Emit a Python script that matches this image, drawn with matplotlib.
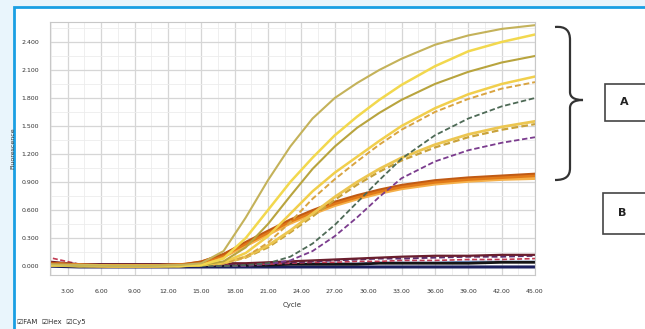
import matplotlib.pyplot as plt
import matplotlib.patches as patches
from matplotlib.path import Path
from matplotlib.ticker import MultipleLocator

cycles = [1, 4, 7, 10, 13, 15, 17, 19, 21, 23, 25, 27, 29, 31, 33, 36, 39, 42, 45]

# group A (strong amplification)
a_olive_top = [0.02, 0.01, 0.0, 0.0, 0.01, 0.03, 0.16, 0.52, 0.92, 1.28, 1.58, 1.80, 1.96, 2.10, 2.22, 2.37, 2.47, 2.54, 2.58]
a_yellow_top = [0.01, 0.01, 0.0, 0.0, 0.0, 0.01, 0.08, 0.30, 0.60, 0.90, 1.16, 1.40, 1.60, 1.78, 1.94, 2.14, 2.30, 2.40, 2.48]
a_olive_mid = [0.01, 0.0, 0.0, 0.0, 0.0, 0.01, 0.05, 0.20, 0.45, 0.75, 1.04, 1.28, 1.48, 1.64, 1.78, 1.95, 2.08, 2.18, 2.25]
a_yellow_mid = [0.01, 0.0, 0.0, 0.0, 0.0, 0.01, 0.04, 0.14, 0.32, 0.56, 0.80, 1.00, 1.17, 1.34, 1.50, 1.69, 1.84, 1.95, 2.03]
a_tan_dash = [0.01, 0.0, 0.0, 0.0, 0.0, 0.01, 0.03, 0.10, 0.25, 0.47, 0.72, 0.93, 1.12, 1.30, 1.46, 1.65, 1.79, 1.90, 1.97]
a_green_dash = [0.01, 0.0, 0.0, 0.0, 0.0, 0.0, 0.0, 0.01, 0.03, 0.10, 0.24, 0.44, 0.68, 0.92, 1.15, 1.40, 1.58, 1.71, 1.80]
a_yellow_low = [0.01, 0.0, 0.0, 0.0, 0.0, 0.01, 0.03, 0.10, 0.22, 0.38, 0.56, 0.74, 0.90, 1.04, 1.16, 1.30, 1.41, 1.49, 1.55]
a_gold_low = [0.01, 0.0, 0.0, 0.0, 0.0, 0.01, 0.03, 0.09, 0.20, 0.36, 0.53, 0.71, 0.87, 1.01, 1.13, 1.27, 1.38, 1.46, 1.52]
a_purple_dash = [0.01, 0.0, 0.0, 0.0, 0.0, 0.0, 0.0, 0.0, 0.02, 0.06, 0.16, 0.32, 0.52, 0.74, 0.94, 1.12, 1.24, 1.32, 1.38]

# group B (weak amplification, orange bundle)
b_orange = [0.03, 0.01, 0.0, 0.0, 0.01, 0.04, 0.12, 0.24, 0.36, 0.48, 0.58, 0.67, 0.74, 0.80, 0.85, 0.90, 0.93, 0.95, 0.97]
b_dark = [0.04, 0.01, 0.0, 0.0, 0.01, 0.05, 0.13, 0.26, 0.38, 0.50, 0.60, 0.69, 0.76, 0.82, 0.87, 0.92, 0.95, 0.97, 0.99]
b_light = [0.03, 0.01, 0.0, 0.0, 0.01, 0.03, 0.10, 0.22, 0.34, 0.46, 0.56, 0.65, 0.72, 0.78, 0.83, 0.88, 0.91, 0.93, 0.94]

# negatives near baseline
n_maroon = [0.05, 0.02, 0.02, 0.02, 0.02, 0.02, 0.03, 0.03, 0.04, 0.05, 0.06, 0.07, 0.08, 0.09, 0.10, 0.11, 0.11, 0.12, 0.12]
n_purple = [0.03, 0.02, 0.01, 0.01, 0.01, 0.01, 0.02, 0.02, 0.03, 0.04, 0.05, 0.06, 0.07, 0.08, 0.08, 0.09, 0.10, 0.10, 0.11]
n_red = [0.10, 0.02, 0.01, 0.01, 0.01, 0.01, 0.01, 0.02, 0.02, 0.03, 0.04, 0.04, 0.05, 0.05, 0.06, 0.06, 0.07, 0.07, 0.08]
n_black = [0.02, 0.01, 0.01, 0.01, 0.01, 0.01, 0.01, 0.01, 0.01, 0.02, 0.02, 0.02, 0.02, 0.03, 0.03, 0.03, 0.03, 0.04, 0.04]
n_blue = [0.01, 0.01, 0.01, 0.01, 0.01, 0.01, 0.02, 0.02, 0.02, 0.02, 0.03, 0.03, 0.03, 0.04, 0.04, 0.04, 0.05, 0.05, 0.05]
n_navy = [0.0, -0.01, -0.01, -0.01, -0.01, -0.01, -0.01, -0.01, -0.01, -0.01, -0.01, -0.01, -0.01, -0.01, -0.01, -0.01, -0.01, -0.01, -0.01]

curves = [
    (n_navy, "#1b1f5e", "-", 2.2),
    (n_blue, "#6a8fc8", "-", 1.0),
    (n_black, "#151515", "-", 2.0),
    (n_red, "#c23a52", (0, (3, 1.5)), 1.2),
    (n_purple, "#5b2b6e", (0, (3, 1.5)), 1.4),
    (n_maroon, "#6b1f2e", "-", 1.6),
    (b_light, "#f5b04a", "-", 2.4),
    (b_orange, "#e27a18", "-", 2.4),
    (b_dark, "#c05a14", "-", 1.4),
    (a_purple_dash, "#7b3c8e", (0, (3, 1.5)), 1.3),
    (a_gold_low, "#c9a23a", (0, (3, 1.5)), 1.6),
    (a_yellow_low, "#ecc651", "-", 2.0),
    (a_green_dash, "#4e6a56", (0, (3, 1.5)), 1.3),
    (a_tan_dash, "#d9a441", (0, (3, 1.5)), 1.4),
    (a_yellow_mid, "#f1cf4c", "-", 1.8),
    (a_olive_mid, "#b8a43e", "-", 1.5),
    (a_yellow_top, "#f2d84e", "-", 1.8),
    (a_olive_top, "#c4b25a", "-", 1.5),
]

y_ticks = [0.0, 0.3, 0.6, 0.9, 1.2, 1.5, 1.8, 2.1, 2.4]
x_ticks = [3, 6, 9, 12, 15, 18, 21, 24, 27, 30, 33, 36, 39, 42, 45]

W, H = 645, 329
fig = plt.figure(figsize=(W / 100, H / 100), dpi=100)
fig.patch.set_facecolor("#e9f5fc")


def fx(px):
    return px / W


def fy(py):
    return 1 - py / H


# white panel with blue border, kept behind the axes
panel = patches.Rectangle((fx(14), -0.05), 1.1, fy(7) + 0.05, transform=fig.transFigure,
                          facecolor="white", edgecolor="#1a9fe3", linewidth=2.0, zorder=-10)
fig.patches.append(panel)

ax = fig.add_axes([fx(50), fy(275), fx(535) - fx(50), fy(22) - fy(275)])
ax.set_zorder(5)
ax.set_facecolor("white")
ax.set_xlim(1.4, 45)
ax.set_ylim(-0.096, 2.614)

for vals, color, ls, lw in curves:
    ax.plot(cycles, vals, color=color, linestyle=ls, linewidth=lw, solid_capstyle="round")

ax.set_xticks(x_ticks)
ax.set_xticklabels([f"{v:.2f}" for v in x_ticks])
ax.set_yticks(y_ticks)
ax.set_yticklabels([f"{v:.3f}" for v in y_ticks])
ax.xaxis.set_minor_locator(MultipleLocator(1.5))
ax.yaxis.set_minor_locator(MultipleLocator(0.15))
ax.grid(True, which="major", color="#d6d6d6", linewidth=0.9)
ax.grid(True, which="minor", color="#ececec", linewidth=0.6)
ax.set_axisbelow(True)
ax.tick_params(which="both", length=0, labelsize=4.5, colors="#333333")
ax.tick_params(axis="x", pad=10)
ax.tick_params(axis="y", pad=8)
for s in ax.spines.values():
    s.set_color("#c8c8c8")
    s.set_linewidth(0.8)

ax.set_xlabel("Cycle", fontsize=5, color="#333333")
ax.set_ylabel("Fluorescence", fontsize=4.5, color="#333333")
ax.xaxis.set_label_coords(0.5, -0.105)
ax.yaxis.set_label_coords(-0.072, 0.5)

# dye legend
fig.text(fx(17), fy(322), "\u2611FAM  \u2611Hex  \u2611Cy5", fontsize=5, color="#333333",
         va="center", ha="left")

# curly brace for group A
verts = [
    (555, 27), (566, 26), (570, 31), (570, 40),
    (570, 92),
    (570, 97), (574, 100), (583, 100),
    (574, 100), (570, 103), (570, 108),
    (570, 168),
    (570, 176), (566, 180), (555, 180),
]
codes = [Path.MOVETO, Path.CURVE4, Path.CURVE4, Path.CURVE4,
         Path.LINETO,
         Path.CURVE4, Path.CURVE4, Path.CURVE4,
         Path.CURVE4, Path.CURVE4, Path.CURVE4,
         Path.LINETO,
         Path.CURVE4, Path.CURVE4, Path.CURVE4]
brace = Path([(fx(x), fy(y)) for x, y in verts], codes)
fig.patches.append(patches.PathPatch(brace, transform=fig.transFigure, facecolor="none",
                                     edgecolor="#333333", linewidth=1.6))

# labels A and B
for label, y0, y1, x0 in [("A", 84, 121, 605), ("B", 193, 234, 603)]:
    box = patches.Rectangle((fx(x0), fy(y1)), fx(660) - fx(x0), fy(y0) - fy(y1),
                            transform=fig.transFigure, facecolor="white",
                            edgecolor="#444444", linewidth=1.2)
    fig.patches.append(box)
    fig.text(fx(x0 + 19), fy((y0 + y1) / 2), label, fontsize=8, fontweight="bold",
             color="#222222", ha="center", va="center")

fig.savefig("out.png", dpi=100)
